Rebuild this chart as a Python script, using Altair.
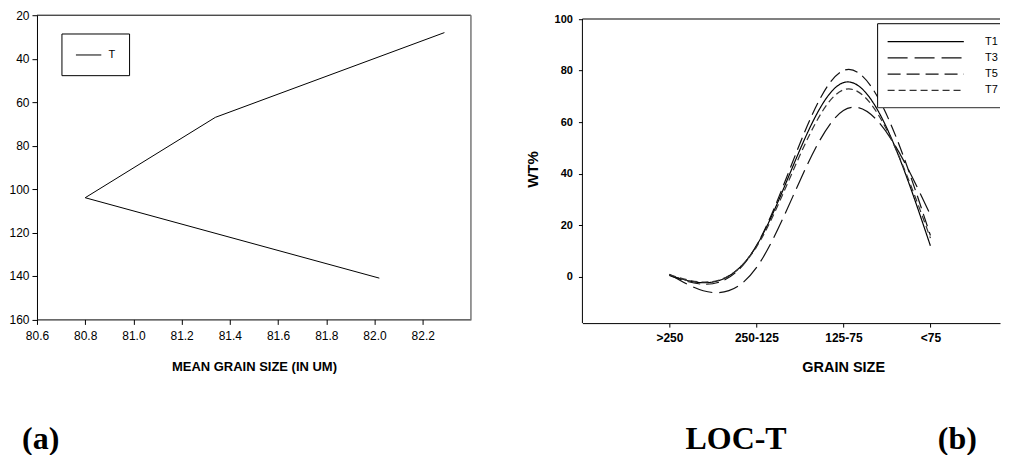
import json
import altair as alt
import pandas as pd

# ---------------- data ----------------
# Panel (a): depth profile of mean grain size
depth = [28, 67, 104, 141]
mean_size = [82.29, 81.34, 80.80, 82.02]
legend_a = ["T"]

# Panel (b): grain size distribution
grain_classes = [">250", "250-125", "125-75", "<75"]
series_names = ["T1", "T3", "T5", "T7"]
t1 = [0.6, 12.0, 75.3, 12.0]
t3 = [1.0, 3.5, 64.5, 24.0]
t5 = [0.5, 12.0, 80.0, 16.0]
t7 = [0.8, 11.5, 72.5, 15.0]

x_ticks_a = [80.6, 80.8, 81.0, 81.2, 81.4, 81.6, 81.8, 82.0, 82.2]
y_ticks_a = [20, 40, 60, 80, 100, 120, 140, 160]
y_ticks_b = [0, 20, 40, 60, 80, 100]
panel_labels = ["(a)", "LOC-T", "(b)"]

# ---------------- tables ----------------
df_a = pd.DataFrame({"depth": depth, "size": mean_size})
rows = []
for name, vals in zip(series_names, [t1, t3, t5, t7]):
    for i, v in enumerate(vals):
        rows.append({"series": name, "pos": i + 1, "cls": grain_classes[i], "wt": v})
df_b = pd.DataFrame(rows)
df_leg = pd.DataFrame({"series": series_names})
one = pd.DataFrame({"k": [0]})

W_A, H_A = 434.4, 304.5
W_B, H_B = 418, 308.2
TOP_B = 3.8           # frame line of panel (b) sits a little below panel (a)'s
B_XMAX = 4.8          # visible extent of the category axis
B_YMAX = 101.47

dash_range = [[1, 0], [20, 7], [13, 6], [7, 4]]
color_range = ["#000000", "#111111", "#111111", "#333333"]
dash_scale = alt.Scale(domain=series_names, range=dash_range)
color_scale = alt.Scale(domain=series_names, range=color_range)

# ---------------- panel (a) ----------------
line_a = alt.Chart(df_a).mark_line(color="black", strokeWidth=1).encode(
    x=alt.X("size:Q",
            scale=alt.Scale(domain=[80.6, 82.4], nice=False, zero=False),
            axis=alt.Axis(values=x_ticks_a, format=".1f", title="MEAN GRAIN SIZE (IN UM)",
                          tickSize=5, labelPadding=6, labelFontSize=12,
                          titleFontSize=13, titleFontWeight="bold", titlePadding=19,
                          labelFlush=False)),
    y=alt.Y("depth:Q",
            scale=alt.Scale(domain=[20, 160], reverse=True, nice=False, zero=False),
            axis=alt.Axis(values=y_ticks_a, title=None, tickSize=5, labelPadding=3,
                          labelFontSize=12, labelFlush=False)),
    order=alt.Order("depth:Q"),
)

top_a = alt.Chart(one).mark_rule(color="black", strokeWidth=1).encode(
    x=alt.value(0), x2=alt.value(W_A), y=alt.value(0))
right_a = alt.Chart(one).mark_rule(color="#777777", strokeWidth=1.5).encode(
    x=alt.value(W_A), y=alt.value(0), y2=alt.value(H_A))

leg_box_a = alt.Chart(one).mark_rect(fill="white", stroke="black", strokeWidth=1).encode(
    x=alt.value(25), x2=alt.value(92.7), y=alt.value(18.8), y2=alt.value(60.5))
leg_line_a = alt.Chart(one).mark_rule(color="black", strokeWidth=1).encode(
    x=alt.value(39), x2=alt.value(64.4), y=alt.value(39.8))
leg_text_a = alt.Chart(pd.DataFrame({"t": legend_a})).mark_text(
    align="left", baseline="middle", fontSize=11, font="Liberation Sans", color="black").encode(
    x=alt.value(71.5), y=alt.value(39.8), text="t:N")

lab_a = alt.Chart(pd.DataFrame({"t": [panel_labels[0]]})).mark_text(
    align="center", baseline="alphabetic", fontSize=32, font="Liberation Serif",
    fontWeight="bold", color="black").encode(
    x=alt.value(3.7), y=alt.value(434), text="t:N")

panel_a = alt.layer(line_a, top_a, right_a, leg_box_a, leg_line_a, leg_text_a, lab_a).properties(
    width=W_A, height=H_A)

# ---------------- panel (b) ----------------
label_expr = json.dumps(grain_classes) + "[datum.value - 1]"

lines_b = alt.Chart(df_b).mark_line(interpolate="natural", strokeWidth=1.2).encode(
    x=alt.X("pos:Q",
            scale=alt.Scale(domain=[0, B_XMAX], nice=False, zero=False),
            axis=alt.Axis(values=[1, 2, 3, 4], labelExpr=label_expr, title="GRAIN SIZE",
                          tickSize=4, labelPadding=5, labelFontSize=12, labelFontWeight="bold",
                          titleFontSize=14.5, titleFontWeight="bold", titlePadding=17,
                          titleX=261, labelFlush=False)),
    y=alt.Y("wt:Q",
            scale=alt.Scale(domain=[-18, B_YMAX], nice=False, zero=False),
            axis=alt.Axis(values=y_ticks_b, title="WT%", tickSize=4, labelPadding=6,
                          labelFontSize=11, labelFontWeight="bold",
                          titleFontSize=15, titleFontWeight="bold", titlePadding=14,
                          titleY=154, labelFlush=False, domain=False)),
    strokeDash=alt.StrokeDash("series:N", scale=dash_scale, legend=None),
    color=alt.Color("series:N", scale=color_scale, legend=None),
    order=alt.Order("pos:Q"),
)

top_b = alt.Chart(one).mark_rule(color="black", strokeWidth=1).encode(
    x=alt.value(0), x2=alt.value(W_B), y=alt.value(TOP_B))
left_b = alt.Chart(one).mark_rule(color="black", strokeWidth=1).encode(
    x=alt.value(0), y=alt.value(TOP_B), y2=alt.value(H_B))
push_b = alt.Chart(one).mark_rule(color="white", strokeWidth=1).encode(
    x=alt.value(0), x2=alt.value(10), y=alt.value(-6))

LX, LY1, LY2 = 295.5, TOP_B + 4.7, TOP_B + 88.7
leg_fill_b = alt.Chart(one).mark_rect(fill="white").encode(
    x=alt.value(LX), x2=alt.value(W_B), y=alt.value(LY1), y2=alt.value(LY2))
leg_top_b = alt.Chart(one).mark_rule(color="black", strokeWidth=1).encode(
    x=alt.value(LX), x2=alt.value(W_B), y=alt.value(LY1))
leg_left_b = alt.Chart(one).mark_rule(color="black", strokeWidth=1).encode(
    x=alt.value(LX), y=alt.value(LY1), y2=alt.value(LY2))
leg_bot_b = alt.Chart(one).mark_rule(color="#555555", strokeWidth=1.5).encode(
    x=alt.value(LX), x2=alt.value(W_B), y=alt.value(LY2))

row_scale = alt.Scale(type="point", domain=series_names,
                      range=[TOP_B + 22.7, TOP_B + 71.4], padding=0)
leg_rules_b = alt.Chart(df_leg).mark_rule(strokeWidth=1.2).encode(
    x=alt.value(305.5), x2=alt.value(381.8),
    y=alt.Y("series:N", scale=row_scale, axis=None),
    strokeDash=alt.StrokeDash("series:N", scale=dash_scale, legend=None),
    color=alt.Color("series:N", scale=color_scale, legend=None),
)
leg_text_b = alt.Chart(df_leg).mark_text(
    align="left", baseline="middle", fontSize=11, font="Liberation Sans", color="black").encode(
    x=alt.value(403), y=alt.Y("series:N", scale=row_scale, axis=None), text="series:N")

lab_b1 = alt.Chart(pd.DataFrame({"t": [panel_labels[1]]})).mark_text(
    align="center", baseline="alphabetic", fontSize=32, font="Liberation Serif",
    fontWeight="bold", color="black").encode(
    x=alt.value(153.8), y=alt.value(434), text="t:N")
lab_b2 = alt.Chart(pd.DataFrame({"t": [panel_labels[2]]})).mark_text(
    align="center", baseline="alphabetic", fontSize=32, font="Liberation Serif",
    fontWeight="bold", color="black").encode(
    x=alt.value(375.3), y=alt.value(434), text="t:N")

panel_b = alt.layer(lines_b, top_b, left_b, push_b, leg_fill_b, leg_top_b, leg_left_b,
                    leg_bot_b, leg_rules_b, leg_text_b, lab_b1, lab_b2).resolve_scale(
    y="independent").properties(width=W_B, height=H_B)

chart = alt.hconcat(panel_a, panel_b, spacing=52).properties(padding=0).configure_view(
    stroke=None).configure_axis(
    grid=False, domainColor="black", tickColor="black", labelColor="black",
    titleColor="black", labelFont="Liberation Sans", titleFont="Liberation Sans",
    domainWidth=1, tickWidth=1)

chart.save("out.html", embed_options={"renderer": "svg", "actions": False})
